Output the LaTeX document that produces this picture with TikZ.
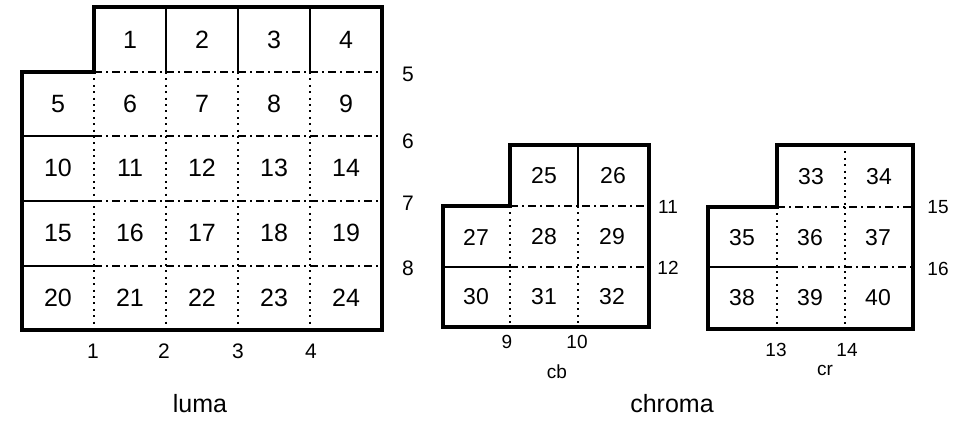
\documentclass[tikz,border=0pt]{standalone}
\usepackage{fontspec}
\setmainfont{Liberation Sans}

\begin{document}
\begin{tikzpicture}[
    x=0.5pt, y=-0.5pt,
    every node/.style={inner sep=0pt},
    cell/.style={font=\fontsize{12.5}{14}\selectfont},
    small cell/.style={font=\fontsize{11.5}{13}\selectfont},
    tag/.style={font=\fontsize{10.5}{12}\selectfont},
    small tag/.style={font=\fontsize{9.5}{11}\selectfont},
    title/.style={font=\fontsize{12.5}{14}\selectfont},
    border/.style={line width=2pt, line join=miter},
    split/.style={line width=0.6pt},
    dotcol/.style={line width=1.1pt, dash pattern=on 1pt off 2.2pt},
    dashrow/.style={line width=0.65pt, dash pattern=on 4pt off 2pt on 1pt off 2pt}
]
\useasboundingbox (0,0) rectangle (962,420);

% luma
\foreach \x in {94,166,238,310}
    \draw [dotcol] (\x,72) -- (\x,330);
\foreach \x in {166,238,310}
    \draw [split] (\x,7) -- (\x,72);
\draw [dashrow] (94,72) -- (382,72);
\foreach \y in {136,201,266} {
    \draw [split] (22,\y) -- (94,\y);
    \draw [dashrow] (94,\y) -- (382,\y);
}
\draw [border] (94,7) -- (382,7) -- (382,330) -- (22,330) -- (22,72) -- (94,72) -- cycle;

\foreach \n [count=\i from 0] in {1,...,4}
    \node [cell] (l\n) at (130+72*\i,40) {\n};
\foreach \y [count=\r from 0] in {104,168,233,298}
    \foreach \c in {0,...,4} {
        \pgfmathtruncatemacro{\n}{5+5*\r+\c}
        \node [cell] (l\n) at (58+72*\c,\y) {\n};
    }

\foreach \n/\y in {5/74,6/141,7/203,8/268}
    \node [tag] (lr\n) at (408,\y) {\n};
\foreach \n/\x in {1/93,2/164,3/238,4/311}
    \node [tag] (lb\n) at (\x,351) {\n};
\node [title] (luma) at (200,404) {luma};

% cb
\draw [split] (578,145) -- (578,206);
\foreach \x in {510,578}
    \draw [dotcol] (\x,206) -- (\x,327);
\draw [dashrow] (510,206) -- (649,206);
\draw [split] (443,267) -- (510,267);
\draw [dashrow] (510,267) -- (649,267);
\draw [border] (510,145) -- (649,145) -- (649,327) -- (443,327) -- (443,206) -- (510,206) -- cycle;

\node [small cell] (c25) at (544,176) {25};
\node [small cell] (c26) at (613,176) {26};
\foreach \y [count=\r from 0] in {237,297}
    \foreach \c in {0,1,2} {
        \pgfmathtruncatemacro{\n}{27+3*\r+\c}
        \node [small cell] (c\n) at (476+68*\c,\y) {\n};
    }

\node [small tag] (cr11) at (668,207) {11};
\node [small tag] (cr12) at (668,268) {12};
\node [small tag] (cb9) at (507,342) {9};
\node [small tag] (cb10) at (577,342) {10};
\node [small tag] (cb) at (557,372) {cb};

% cr
\draw [dotcol] (845,145) -- (845,207);
\foreach \x in {777,845}
    \draw [dotcol] (\x,207) -- (\x,329);
\draw [dashrow] (777,207) -- (913,207);
\draw [split] (708,267) -- (790,267);
\draw [dashrow] (790,267) -- (913,267);
\draw [border] (777,145) -- (913,145) -- (913,329) -- (708,329) -- (708,207) -- (777,207) -- cycle;

\node [small cell] (r33) at (811,177) {33};
\node [small cell] (r34) at (879,177) {34};
\foreach \y [count=\r from 0] in {238,298}
    \foreach \c in {0,1,2} {
        \pgfmathtruncatemacro{\n}{35+3*\r+\c}
        \node [small cell] (r\n) at (742+68*\c,\y) {\n};
    }

\node [small tag] (rr15) at (938,207) {15};
\node [small tag] (rr16) at (938,269) {16};
\node [small tag] (rb13) at (776,350) {13};
\node [small tag] (rb14) at (847,350) {14};
\node [small tag] (cr) at (825,370) {cr};

\node [title] (chroma) at (672,404) {chroma};

\end{tikzpicture}
\end{document}
